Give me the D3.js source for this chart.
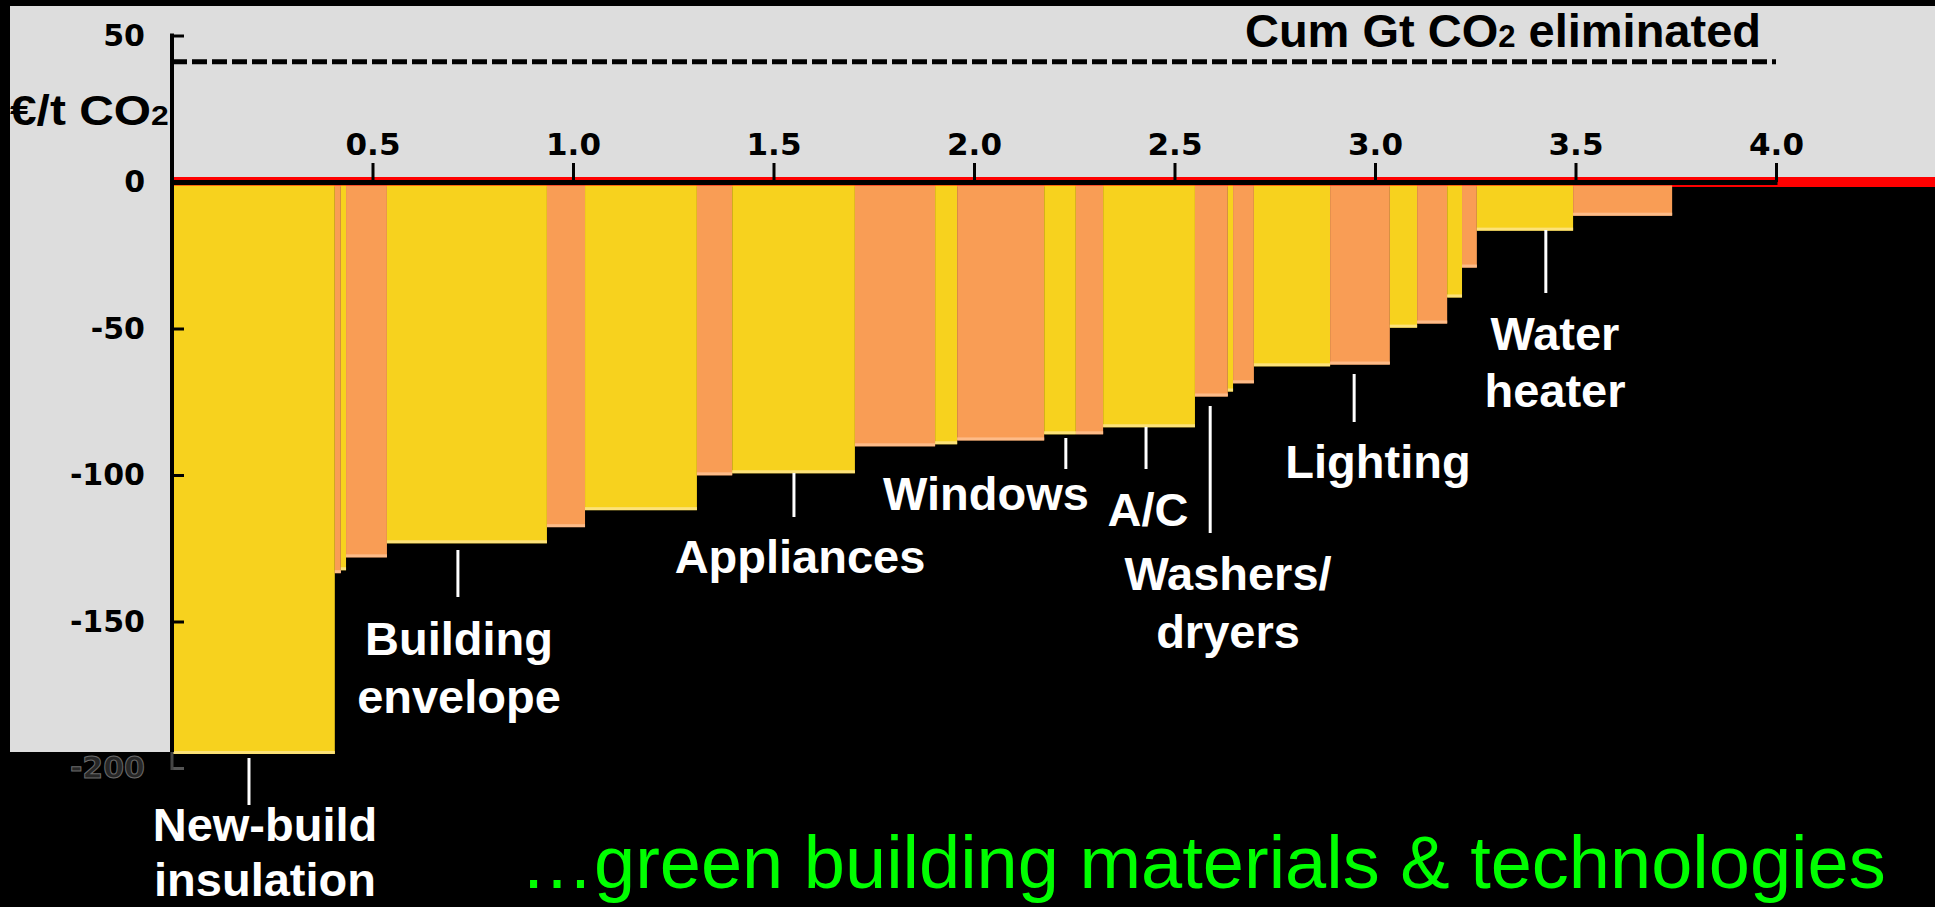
<!DOCTYPE html>
<html>
<head>
<meta charset="utf-8">
<script src="https://cdn.jsdelivr.net/npm/d3@7"></script>
<style>
body { margin: 0; background: #000; overflow: hidden; }
svg { display: block; }
</style>
</head>
<body>
<script>
// abatement per lever (Gt CO2) and cost (EUR / t CO2), left to right
const widths = [0.406, 0.015, 0.013, 0.102, 0.399, 0.095, 0.279, 0.088, 0.306, 0.200,
                0.055, 0.217, 0.079, 0.068, 0.229, 0.082, 0.013, 0.052, 0.190, 0.149,
                0.068, 0.075, 0.037, 0.037, 0.240, 0.247];
const costs = [-195.2, -133.5, -132.5, -128.1, -123.3, -117.8, -112.0, -100.1, -99.4, -90.2,
               -89.5, -88.2, -86.1, -86.1, -83.7, -73.2, -71.5, -68.7, -62.9, -62.3,
               -49.7, -48.3, -39.4, -29.2, -16.6, -11.5];
const groups = ['a', 'b', 'a', 'b', 'a', 'b', 'a', 'b', 'a', 'b', 'a', 'b', 'a',
                'b', 'a', 'b', 'a', 'b', 'a', 'b', 'a', 'b', 'a', 'b', 'a', 'b'];

const xTicks = [0.5, 1.0, 1.5, 2.0, 2.5, 3.0, 3.5, 4.0];
const yTicks = [50, 0, -50, -100, -150, -200];
const refCost = 41;  // dashed line

const labelNames = [['New-build', 'insulation'], ['Building', 'envelope'], ['Appliances'], ['Windows'],
                    ['A/C'], ['Washers/', 'dryers'], ['Lighting'], ['Water', 'heater']];
const labelAt = [0.192, 0.713, 1.551, 2.229, 2.429, 2.589, 2.948, 3.426];  // cum Gt the leader points at

// label layout: leader top/bottom, text centre, first baseline, line gap
const labelLayout = [
    [758, 805, 265, 841, 55], [550, 597, 459, 655, 58], [473, 517, 800, 573, 58], [438, 469, 986, 510, 58],
    [427, 469, 1148, 526, 58], [406, 533, 1228, 590, 58], [374, 422, 1378, 478, 58], [230, 293, 1555, 350, 57]
];

const W = 1935, H = 907;
const colors = {a: '#F7D21E', b: '#F99D55'};
const edge = {a: '#FCE27A', b: '#FDBB88'};
const tickFont = '"DejaVu Sans", sans-serif';
const textFont = '"Liberation Sans", Arial, sans-serif';

const x = d3.scaleLinear().domain([0, 4]).range([172, 1776]);
const y = d3.scaleLinear().domain([50, -200]).range([35.5, 768]);

const starts = [0, ...d3.cumsum(widths)];
const bars = widths.map((w, i) => ({x0: starts[i], x1: starts[i] + w, cost: costs[i], g: groups[i]}));

const svg = d3.select('body').append('svg')
    .attr('width', W)
    .attr('height', H);

// grey chart background: above zero everywhere, left strip down to the first bar
svg.append('rect').attr('x', 10).attr('y', 6).attr('width', W - 10).attr('height', y(0) - 6).attr('fill', '#DDDDDD');
svg.append('rect').attr('x', 10).attr('y', 6).attr('width', x(0) - 10).attr('height', 752 - 6).attr('fill', '#DDDDDD');

// red zero line
svg.append('rect').attr('x', x(0)).attr('y', y(0) - 5).attr('width', W - x(0)).attr('height', 10).attr('fill', '#FF0000');

// bars
const barTop = y(0) + 3.5;
svg.append('g').selectAll('rect')
    .data(bars)
    .enter()
    .append('rect')
    .attr('x', d => x(d.x0))
    .attr('y', barTop)
    .attr('width', d => x(d.x1) - x(d.x0))
    .attr('height', d => y(d.cost) - barTop)
    .attr('fill', d => colors[d.g]);

// lighter bottom edge on each bar
svg.append('g').selectAll('rect')
    .data(bars)
    .enter()
    .append('rect')
    .attr('x', d => x(d.x0))
    .attr('y', d => y(d.cost) - 3)
    .attr('width', d => x(d.x1) - x(d.x0))
    .attr('height', 3)
    .attr('fill', d => edge[d.g]);

// dashed reference line
svg.append('line')
    .attr('x1', x(0)).attr('x2', x(4))
    .attr('y1', y(refCost)).attr('y2', y(refCost))
    .attr('stroke', '#000')
    .attr('stroke-width', 5)
    .attr('stroke-dasharray', '15,5');

// x axis
const xAxis = svg.append('g')
    .attr('transform', `translate(0,${y(0)})`)
    .call(d3.axisTop(x).tickValues(xTicks).tickSize(19).tickPadding(8).tickFormat(d => d.toFixed(1)));
xAxis.select('.domain').remove();
xAxis.selectAll('.tick line').attr('stroke', '#000').attr('stroke-width', 3);
xAxis.selectAll('.tick text')
    .attr('fill', '#000')
    .attr('font-family', tickFont)
    .attr('font-weight', 'bold')
    .attr('font-size', '31px');
svg.append('line')
    .attr('x1', x(0)).attr('x2', x(4) + 1.5)
    .attr('y1', y(0) + 0.5).attr('y2', y(0) + 0.5)
    .attr('stroke', '#000')
    .attr('stroke-width', 5);

// y axis
const yAxis = svg.append('g')
    .attr('transform', `translate(${x(0)},0)`)
    .call(d3.axisLeft(y).tickValues(yTicks).tickSize(-12).tickPadding(27).tickFormat(d => String(d)));
yAxis.select('.domain').remove();
yAxis.selectAll('.tick line').attr('stroke', d => d === -200 ? '#555' : '#000').attr('stroke-width', 3);
yAxis.selectAll('.tick text')
    .attr('fill', d => d === -200 ? '#262626' : '#000')
    .attr('stroke', d => d === -200 ? '#6a6a6a' : 'none')
    .attr('stroke-width', 1)
    .attr('font-family', tickFont)
    .attr('font-weight', 'bold')
    .attr('font-size', '30px');
svg.append('line')
    .attr('x1', x(0)).attr('x2', x(0))
    .attr('y1', y(50) - 2).attr('y2', 752)
    .attr('stroke', '#000')
    .attr('stroke-width', 4);
svg.append('line')
    .attr('x1', x(0)).attr('x2', x(0))
    .attr('y1', 752).attr('y2', y(-200) + 2)
    .attr('stroke', '#444')
    .attr('stroke-width', 3);

// axis titles
const yTitle = svg.append('text')
    .attr('transform', 'translate(10,125) scale(1.14,1)')
    .attr('font-family', textFont)
    .attr('font-weight', 'bold')
    .attr('font-size', '42px')
    .attr('fill', '#000');
yTitle.append('tspan').text('€/t CO');
yTitle.append('tspan').attr('font-size', '28px').text('2');

const xTitle = svg.append('text')
    .attr('x', 1761)
    .attr('y', 47)
    .attr('text-anchor', 'end')
    .attr('font-family', textFont)
    .attr('font-weight', 'bold')
    .attr('font-size', '47px')
    .attr('fill', '#000');
xTitle.append('tspan').text('Cum Gt CO');
xTitle.append('tspan').attr('font-size', '31px').text('2');
xTitle.append('tspan').text(' eliminated');

// category labels with leaders
labelNames.forEach((lines, i) => {
    const [ly1, ly2, cx, base, gap] = labelLayout[i];
    svg.append('line')
        .attr('x1', x(labelAt[i])).attr('x2', x(labelAt[i]))
        .attr('y1', ly1).attr('y2', ly2)
        .attr('stroke', '#fff')
        .attr('stroke-width', 3);
    svg.append('g').selectAll('text')
        .data(lines)
        .enter()
        .append('text')
        .text(d => d)
        .attr('x', cx)
        .attr('y', (d, j) => base + j * gap)
        .attr('text-anchor', 'middle')
        .attr('font-family', textFont)
        .attr('font-weight', 'bold')
        .attr('font-size', '47px')
        .attr('fill', '#fff');
});

// green caption
svg.append('text')
    .text('\u2026green building materials & technologies')
    .attr('x', 520)
    .attr('y', 888)
    .attr('font-family', textFont)
    .attr('font-size', '74px')
    .attr('fill', '#00FF00');
</script>
</body>
</html>
